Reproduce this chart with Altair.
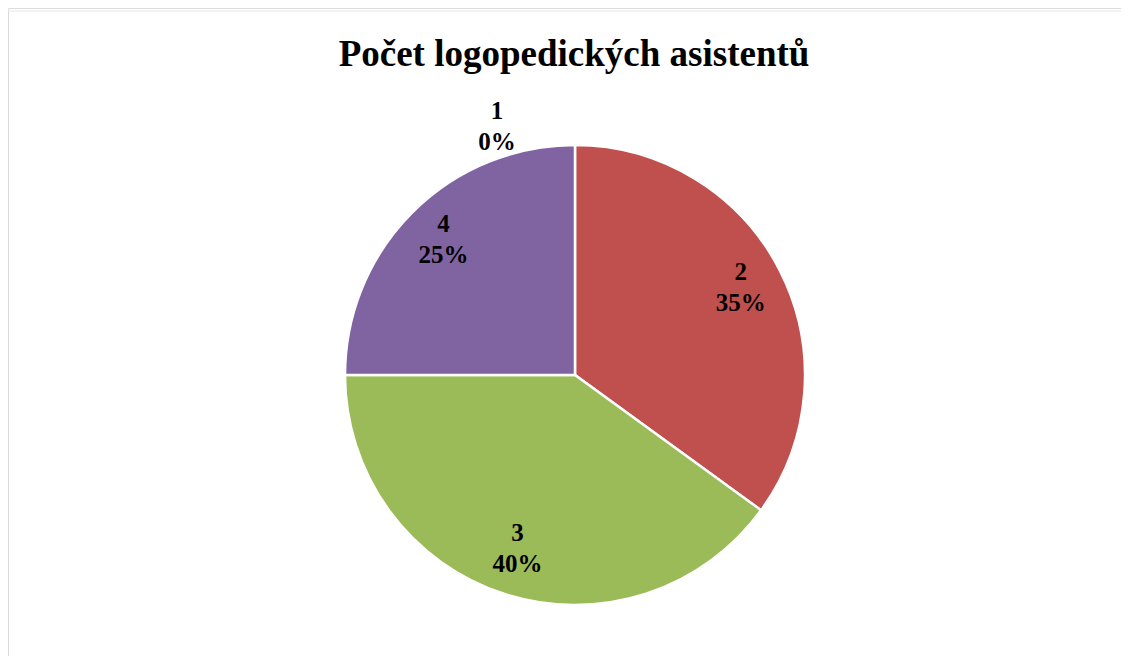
import altair as alt
import pandas as pd

categories = ["1", "2", "3", "4"]
values = [0, 35, 40, 25]
colors = ["#4F81BD", "#C0504D", "#9BBB59", "#8064A2"]
title_text = "Počet logopedických asistentů"

df = pd.DataFrame({"kat": categories, "hodnota": values, "poradi": list(range(len(categories)))})
title_df = pd.DataFrame({"t": [title_text]})

W, H = 1113, 648
CX, CY = 567, 367
R = 230
FONT = "Liberation Serif"

base = alt.Chart(df).transform_joinaggregate(
    total="sum(hodnota)"
).transform_calculate(
    label="datum.kat + '\\n' + format(datum.hodnota / datum.total, '.0%')",
)

color_scale = alt.Scale(domain=categories, range=colors)

arcs = base.mark_arc(stroke="white", strokeWidth=2.5, radius=R).encode(
    theta=alt.Theta("hodnota:Q", stack=True),
    order=alt.Order("poradi:Q"),
    color=alt.Color("kat:N", scale=color_scale, legend=None),
    x=alt.value(CX),
    y=alt.value(CY),
)

labels = base.transform_filter("datum.hodnota > 0").mark_text(
    font=FONT, fontSize=25, fontWeight="bold", color="black",
    lineBreak="\n", lineHeight=31, align="center", baseline="middle", dy=-19,
).encode(
    theta=alt.Theta("hodnota:Q", stack=True),
    order=alt.Order("poradi:Q"),
    radius=alt.value(186),
    text="label:N",
    x=alt.value(CX),
    y=alt.value(CY),
)

zero_labels = base.transform_filter("datum.hodnota == 0").mark_text(
    font=FONT, fontSize=25, fontWeight="bold", color="black",
    lineBreak="\n", lineHeight=31, align="center", baseline="middle",
    dx=-78, dy=-17,
).encode(
    theta=alt.Theta("hodnota:Q", stack=True),
    order=alt.Order("poradi:Q"),
    radius=alt.value(247),
    text="label:N",
    x=alt.value(CX),
    y=alt.value(CY),
)

title = alt.Chart(title_df).mark_text(
    font=FONT, fontSize=37, fontWeight="bold", color="black",
    align="center", baseline="alphabetic",
).encode(text="t:N", x=alt.value(566), y=alt.value(58))

border_left = alt.Chart(title_df).mark_rule(color="#D9D9D9", strokeWidth=2).encode(
    x=alt.value(0), y=alt.value(3), y2=alt.value(H)
)
border_top = alt.Chart(title_df).mark_rule(color="#E6E6E6", strokeWidth=1).encode(
    y=alt.value(3), x=alt.value(0), x2=alt.value(W)
)

chart = alt.layer(border_left, border_top, arcs, labels, zero_labels, title).properties(
    width=W,
    height=H,
    padding=0,
    autosize=alt.AutoSizeParams(type="none"),
).configure_view(stroke=None).configure(background="white")

chart.save("out.html", embed_options={"renderer": "svg", "actions": False})
